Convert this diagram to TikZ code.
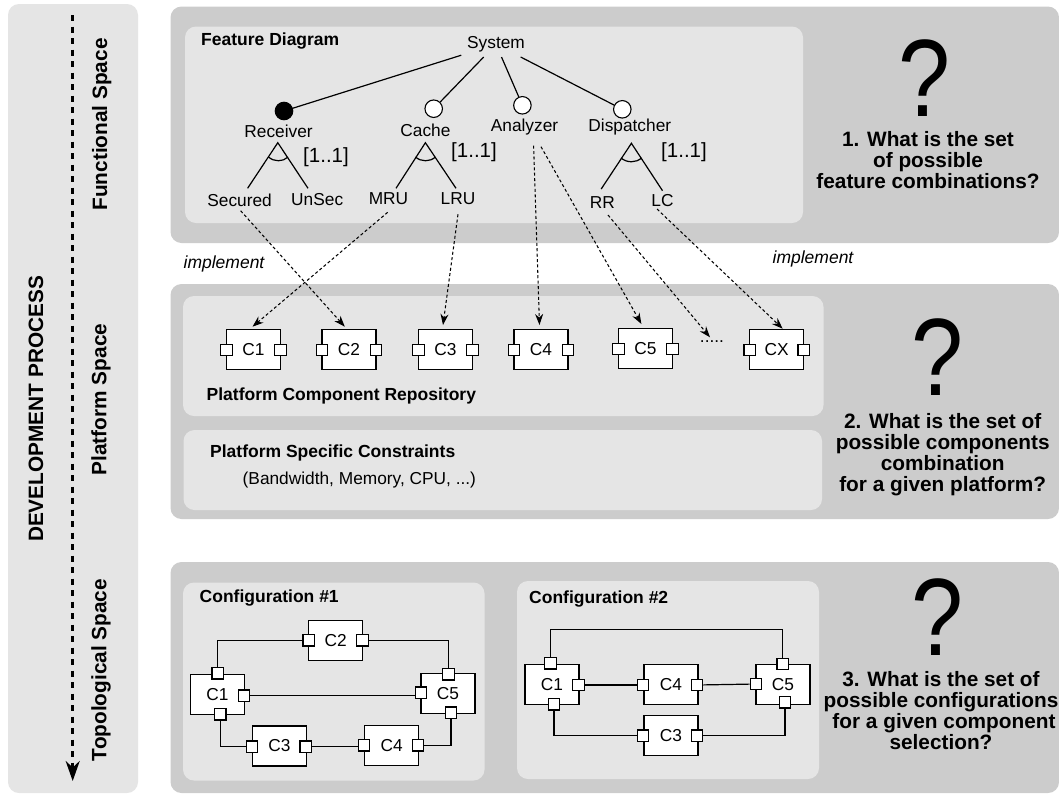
\documentclass[tikz,border=0pt]{standalone}
\usepackage{fontspec}
\setmainfont{Liberation Sans}
\usetikzlibrary{arrows.meta}
\definecolor{outerpanel}{gray}{0.80}
\definecolor{innerpanel}{gray}{0.90}
\tikzset{
  txt/.style={inner sep=0pt,font=\fontsize{17.3}{20}\selectfont},
  mtxt/.style={inner sep=0pt,font=\fontsize{20.5}{22}\selectfont},
  btxt/.style={inner sep=0pt,font=\fontsize{17.5}{20}\selectfont\bfseries},
  qtxt/.style={inner sep=0pt,align=center,font=\fontsize{20.8}{21}\selectfont\bfseries},
  vtxt/.style={inner sep=0pt,rotate=90,font=\fontsize{20.8}{22}\selectfont\bfseries},
  outer/.style={fill=outerpanel,rounded corners=11pt},
  inner/.style={fill=innerpanel,rounded corners=11pt},
  feat/.style={circle,draw=black,fill=white,line width=1.1pt,minimum size=17.5pt,inner sep=0pt},
  featblack/.style={feat,fill=black},
  compbox/.style={draw=black,fill=white,line width=1.3pt,minimum width=54pt,minimum height=40pt,inner sep=0pt,font=\fontsize{17.3}{20}\selectfont},
  port/.style={draw=black,fill=white,line width=1.3pt,minimum size=11.5pt,inner sep=0pt},
  link/.style={draw=black,line width=1.2pt},
  dep/.style={draw=black,line width=1.05pt,dash pattern=on 3pt off 2.4pt,-{Stealth[length=11pt,width=8pt]}},
  qmark/.style={inner sep=0pt,font=\fontsize{110}{112}\selectfont},
}
\newcommand{\comp}[4]{\node[compbox] (#1) at (#2,#3) {#4};}
\newcommand{\prt}[3]{\node[port] (#1) at (#2,#3) {};}
\newcommand{\bigq}{\scalebox{0.85}[1]{?}}
\begin{document}
\begin{tikzpicture}[x=1pt,y=-1pt]
\useasboundingbox (0,0) rectangle (1059,793);
\fill[white] (0,0) rectangle (1059,793);
% panels
\fill[inner] (8,4) rectangle (138,793);
\fill[outer] (170.5,6.5) rectangle (1059,243);
\fill[outer] (170.5,284) rectangle (1059,519);
\fill[outer] (170.5,562) rectangle (1059,793);
\fill[inner] (185,26.5) rectangle (803,223);
\fill[inner] (183,296) rectangle (823.5,416);
\fill[inner] (183.5,430) rectangle (822,510);
\fill[inner] (183,582.5) rectangle (484.5,780.5);
\fill[inner] (517,581) rectangle (819,779);
% left column
\coordinate (devtop) at (72.7,15);
\coordinate (devend) at (72.7,781);
\draw[draw=black,line width=2.7pt,dash pattern=on 6pt off 5.5pt,-{Stealth[length=20pt,width=14pt]}] (devtop) -- (devend);
\node[vtxt] (devp) at (36,409) {DEVELOPMENT PROCESS};
\node[vtxt] (fsp) at (101.7,124.5) {Functional Space};
\node[vtxt] (psp) at (101,399.5) {Platform Space};
\node[vtxt] (tsp) at (101,670) {Topological Space};
% feature diagram
\node[btxt,anchor=west] (fdt) at (201,41.5) {Feature Diagram};
\node[txt,minimum width=69pt,minimum height=25pt] (sys) at (496,44.3) {System};
\node[featblack] (cr) at (284,111) {};
\node[feat] (cc) at (433.7,108.7) {};
\node[feat] (ca) at (522.4,105.3) {};
\node[feat] (cd) at (622.3,109.3) {};
\foreach \c in {cr,cc,ca,cd} \draw[link] (sys) -- (\c);
\node[txt] (rcv) at (278.6,131) {Receiver};
\node[txt] (cch) at (425.4,130) {Cache};
\node[txt] (anl) at (524.5,127.3) {Analyzer};
\node[txt] (dsp) at (629.8,127.3) {Dispatcher};
\node[txt] (sec) at (239.6,200) {Secured};
\node[txt] (uns) at (317.2,200) {UnSec};
\node[txt] (mru) at (388.5,198.3) {MRU};
\node[txt] (lru) at (458,199) {LRU};
\node[txt] (rr) at (602.4,202.3) {RR};
\node[txt] (lc) at (662.5,201) {LC};
\node[mtxt] at (326,156.7) {[1..1]};
\node[mtxt] at (474,151.7) {[1..1]};
\node[mtxt] at (684,151.7) {[1..1]};
% and-groups
\draw[link] ([shift={(8,-11.7)}]sec.center) -- ([shift={(-0.8,11.7)}]rcv.center) -- ([shift={(-9.2,-11.7)}]uns.center);
\draw[link] (268.5,157) .. controls (274,162) and (283,162) .. (288,157);
\draw[link] ([shift={(7.5,-10)}]mru.center) -- ([shift={(0,12.7)}]cch.center) -- ([shift={(-2,-10.7)}]lru.center);
\draw[link] (415.5,157) .. controls (421,162) and (430,162) .. (435.5,157);
\draw[link] ([shift={(-1.2,-13.3)}]rr.center) -- ([shift={(1.6,16)}]dsp.center) -- ([shift={(0,-10.3)}]lc.center);
\draw[link] (621,158) .. controls (627,163) and (636,163) .. (641.5,158);
% components
\comp{pc1}{253.5}{349.7}{C1}\prt{pc1l}{226.5}{350}\prt{pc1r}{280.5}{350}
\comp{pc2}{349}{349.7}{C2}\prt{pc2l}{322}{350}\prt{pc2r}{376}{350}
\comp{pc3}{445.4}{349.7}{C3}\prt{pc3l}{418.4}{350}\prt{pc3r}{472.4}{350}
\comp{pc4}{541}{349.7}{C4}\prt{pc4l}{514}{350}\prt{pc4r}{568}{350}
\comp{pc5}{645.4}{348.7}{C5}\prt{pc5l}{618.4}{349}\prt{pc5r}{672.4}{349}
\comp{pcx}{776.6}{349.7}{CX}\prt{pcxl}{749.6}{350}\prt{pcxr}{803.6}{350}
\node[txt] (dots) at (712,342) {.....};
\node[btxt,anchor=west] at (206.5,396) {Platform Component Repository};
\node[btxt,anchor=west] at (210,453) {Platform Specific Constraints};
\node[txt,anchor=west] at (242.5,480) {(Bandwidth, Memory, CPU, ...)};
% implement relations
\draw[dep] ([shift={(1,10.7)}]sec.center) -- ([shift={(-4.2,-23)}]pc2.center);
\draw[dep] ([shift={(-0.8,14)}]mru.center) -- ([shift={(-1,-23)}]pc1.center);
\draw[dep] ([shift={(0,15.3)}]lru.center) -- ([shift={(-2.4,-24.7)}]pc3.center);
\draw[dep] ([shift={(9.1,18.4)}]anl.center) -- ([shift={(-1.5,-24.7)}]pc4.center);
\draw[dep] ([shift={(16.5,19.4)}]anl.center) -- ([shift={(-4,-24.7)}]pc5.center);
\draw[dep] ([shift={(5.6,12.7)}]rr.center) -- ([shift={(-2,-4.7)}]dots.center);
\draw[dep] ([shift={(-5.5,8)}]lc.center) -- ([shift={(6.1,-21)}]pcx.center);
\node[font=\fontsize{17.5}{20}\selectfont\itshape,inner sep=0pt] at (224,264) {implement};
\node[font=\fontsize{17.5}{20}\selectfont\itshape,inner sep=0pt] at (813,259) {implement};
% config 1
\node[btxt,anchor=west] at (199.5,598) {Configuration \#1};
\comp{ac2}{335.7}{640.7}{C2}\prt{ac2l}{308.8}{640.3}\prt{ac2r}{362.5}{640.3}
\comp{ac1}{217.5}{694.3}{C1}\prt{ac1t}{217.7}{673.3}\prt{ac1r}{244}{695.7}\prt{ac1b}{220.3}{714.3}
\comp{ac5}{448}{693.8}{C5}\prt{ac5t}{448.4}{674.3}\prt{ac5l}{421}{692.7}\prt{ac5b}{451}{712.7}
\comp{ac3}{279.5}{746}{C3}\prt{ac3l}{252}{746.7}\prt{ac3r}{305.7}{746.7}
\comp{ac4}{391.8}{745.3}{C4}\prt{ac4l}{364}{745.3}\prt{ac4r}{418}{745.3}
\draw[link] (ac2l) -| (ac1t);
\draw[link] (ac2r) -| (ac5t);
\draw[link] (ac1b) |- (ac3l);
\draw[link] (ac4r) -| (ac5b);
\draw[link] (ac3r) -- (ac3r -| ac4l.west);
\draw[link] (ac1r) -- (ac1r -| ac5l.west);
% config 2
\node[btxt,anchor=west] at (529,599) {Configuration \#2};
\comp{bc1}{552}{684.7}{C1}\prt{bc1t}{550.5}{663.3}\prt{bc1r}{578.5}{685}\prt{bc1b}{554}{704.3}
\comp{bc4}{671}{684.7}{C4}\prt{bc4l}{643}{685}\prt{bc4r}{697}{685}
\comp{bc5}{783}{684.2}{C5}\prt{bc5t}{782.7}{664}\prt{bc5l}{756}{684}\prt{bc5b}{785}{702.3}
\comp{bc3}{671}{735.5}{C3}\prt{bc3l}{643}{735.7}\prt{bc3r}{697}{735.7}
\coordinate (btop) at (666,629.3);
\draw[link] (bc1t) |- (btop) -| (bc5t);
\draw[link] (bc1r) -- (bc4l);
\draw[link] (bc4r) -- (bc5l);
\draw[link] (bc1b) |- (bc3l);
\draw[link] (bc3r) -| (bc5b);
% questions
\node[qmark] (q1) at (924,78.5) {\bigq};
\node[qmark] (q2) at (937,357.5) {\bigq};
\node[qmark] (q3) at (937,617.5) {\bigq};
\node[qtxt] (t1) at (928,160) {1. What is the set\\of possible\\feature combinations?};
\node[qtxt] (t2) at (942.7,454.5) {2. What is the set of\\possible components\\combination\\for a given platform?};
\node[qtxt] (t3) at (941,711) {3. What is the set of\\possible configurations\\\hspace*{6pt}for a given component\\selection?};
\end{tikzpicture}
\end{document}
